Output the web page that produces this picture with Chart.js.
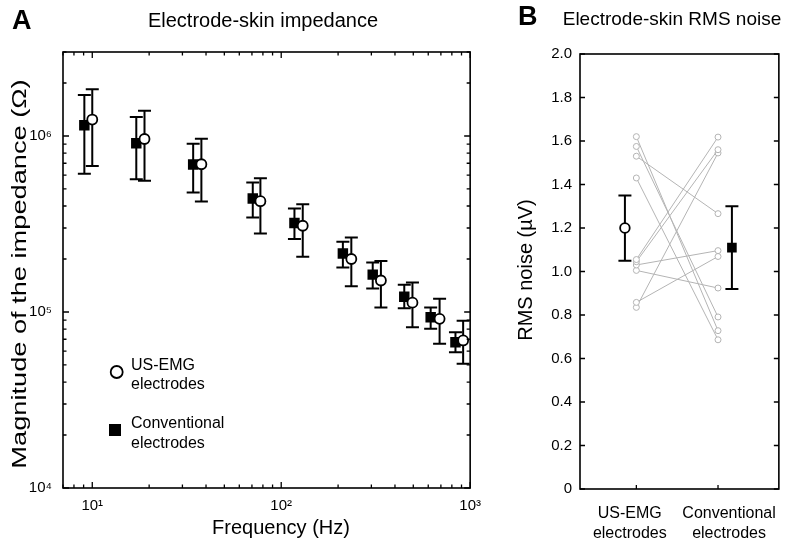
<!DOCTYPE html>
<html>
<head>
<meta charset="utf-8">
<script src="https://cdn.jsdelivr.net/npm/chart.js@4.4.1/dist/chart.umd.min.js"></script>
<style>
  html, body { margin: 0; padding: 0; background: #fff; }
  #wrap { position: relative; width: 794px; height: 544px; }
  #chartA { position: absolute; left: 0; top: 0; }
  #chartB { position: absolute; left: 490px; top: 0; }
</style>
</head>
<body>
<div id="wrap">
  <canvas id="chartA" width="490" height="544"></canvas>
  <canvas id="chartB" width="304" height="544"></canvas>
</div>
<script>
const FONT = '"Liberation Sans", Arial, sans-serif';

// ---- Panel A: impedance vs frequency ----
const freqUsEmg = [10.0, 18.9, 37.8, 77.6, 130, 235, 337, 495, 689, 918];
const impUsEmg = [1.24e6, 9.61e5, 6.91e5, 4.26e5, 3.09e5, 2.00e5, 1.51e5, 1.13e5, 9.14e4, 6.89e4];
const impUsEmgHi = [1.84e6, 1.39e6, 9.65e5, 5.76e5, 4.10e5, 2.65e5, 1.95e5, 1.47e5, 1.19e5, 8.93e4];
const impUsEmgLo = [6.76e5, 5.56e5, 4.24e5, 2.79e5, 2.06e5, 1.40e5, 1.06e5, 8.19e4, 6.59e4, 5.08e4];

const freqConv = [9.08, 17.1, 34.2, 70.7, 117.5, 212, 305, 448, 618, 836];
const impConv = [1.15e6, 9.09e5, 6.88e5, 4.41e5, 3.20e5, 2.15e5, 1.63e5, 1.22e5, 9.33e4, 6.73e4];
const impConvHi = [1.71e6, 1.28e6, 9.04e5, 5.44e5, 3.87e5, 2.51e5, 1.91e5, 1.43e5, 1.06e5, 7.67e4];
const impConvLo = [6.11e5, 5.68e5, 4.77e5, 3.44e5, 2.60e5, 1.79e5, 1.36e5, 1.05e5, 8.02e4, 5.91e4];

const freqTickValues = [10, 100, 1000];
const freqTickLabels = ['10¹', '10²', '10³'];
const impTickValues = [1e4, 1e5, 1e6];
const impTickLabels = ['10⁴', '10⁵', '10⁶'];

// ---- Panel B: RMS noise, paired subjects ----
const groupLabels = [['US-EMG', 'electrodes'], ['Conventional', 'electrodes']];
const noiseUsEmg = [1.62, 1.575, 1.53, 1.43, 1.055, 1.045, 1.03, 1.005, 0.858, 0.835];
const noiseConv = [0.728, 0.791, 1.266, 0.686, 1.618, 1.56, 1.096, 0.924, 1.069, 1.545];
const noiseMean = [1.20, 1.11];
const noiseSd = [0.15, 0.19];
const noiseTickValues = [0, 0.2, 0.4, 0.6, 0.8, 1.0, 1.2, 1.4, 1.6, 1.8, 2.0];
const noiseTickLabels = ['0', '0.2', '0.4', '0.6', '0.8', '1.0', '1.2', '1.4', '1.6', '1.8', '2.0'];

// mean markers sit a little beside each group, labels are nudged apart
const meanOffset = [-0.14, 0.17];
const labelOffset = [-0.08, 0.135];

function logTicks(min, max) {
  const out = [];
  for (let d = Math.floor(Math.log10(min)); d <= Math.ceil(Math.log10(max)); d++) {
    for (let k = 1; k <= 9; k++) {
      const v = k * Math.pow(10, d);
      if (v >= min * 0.999 && v <= max * 1.001) out.push({ v: v, len: k === 1 ? 6 : 3.5 });
    }
  }
  return out;
}

const errorBars = {
  id: 'errorBars',
  beforeDatasetsDraw(chart, args, opts) {
    const { ctx, scales } = chart;
    ctx.save();
    ctx.strokeStyle = '#000';
    ctx.lineWidth = opts.width || 2;
    const half = (opts.cap || 13) / 2;
    chart.data.datasets.forEach((ds) => {
      if (!ds.errHi) return;
      ds.data.forEach((d, j) => {
        const x = scales.x.getPixelForValue(d.x);
        const yHi = scales.y.getPixelForValue(ds.errHi[j]);
        const yLo = scales.y.getPixelForValue(ds.errLo[j]);
        ctx.beginPath();
        ctx.moveTo(x, yHi); ctx.lineTo(x, yLo);
        ctx.moveTo(x - half, yHi); ctx.lineTo(x + half, yHi);
        ctx.moveTo(x - half, yLo); ctx.lineTo(x + half, yLo);
        ctx.stroke();
      });
    });
    ctx.restore();
  }
};

const frame = {
  id: 'frame',
  afterDraw(chart, args, opts) {
    const { ctx, chartArea: a, scales } = chart;
    ctx.save();
    ctx.strokeStyle = '#000';
    ctx.lineWidth = 1.3;
    ctx.beginPath();
    (opts.xTicks || []).forEach(t => {
      const x = scales.x.getPixelForValue(t.v);
      ctx.moveTo(x, a.bottom); ctx.lineTo(x, a.bottom - t.len);
      if (opts.mirrorX) { ctx.moveTo(x, a.top); ctx.lineTo(x, a.top + t.len); }
    });
    (opts.yTicks || []).forEach(t => {
      const y = scales.y.getPixelForValue(t.v);
      ctx.moveTo(a.left, y); ctx.lineTo(a.left + t.len, y);
      if (opts.mirrorY) { ctx.moveTo(a.right, y); ctx.lineTo(a.right - t.len, y); }
    });
    ctx.stroke();
    ctx.lineWidth = 1.6;
    ctx.strokeRect(a.left, a.top, a.right - a.left, a.bottom - a.top);
    ctx.restore();
  }
};

const texts = {
  id: 'texts',
  afterDraw(chart, args, opts) {
    const ctx = chart.ctx;
    (opts.items || []).forEach(t => {
      ctx.save();
      ctx.font = t.font;
      ctx.fillStyle = '#000';
      ctx.textAlign = t.align || 'center';
      ctx.textBaseline = t.baseline || 'alphabetic';
      ctx.translate(t.x, t.y);
      if (t.rotate) ctx.rotate(t.rotate);
      if (t.stretch) ctx.scale(t.stretch, 1);
      ctx.fillText(t.text, 0, 0);
      ctx.restore();
    });
    (opts.markers || []).forEach(m => {
      ctx.save();
      ctx.fillStyle = m.fill;
      ctx.strokeStyle = '#000';
      ctx.lineWidth = m.borderWidth;
      Chart.helpers.drawPoint(ctx, { pointStyle: m.style, radius: m.radius, borderWidth: m.borderWidth, rotation: 0 }, m.x, m.y);
      ctx.restore();
    });
  }
};

Chart.register(errorBars, frame, texts);

const hidden = { display: false, drawTicks: false };

// ---- Chart A ----
new Chart(document.getElementById('chartA'), {
  type: 'scatter',
  data: {
    datasets: [
      {
        label: 'US-EMG electrodes',
        data: freqUsEmg.map((f, i) => ({ x: f, y: impUsEmg[i] })),
        errHi: impUsEmgHi, errLo: impUsEmgLo,
        pointStyle: 'circle', pointRadius: 5,
        pointBackgroundColor: '#fff', pointBorderColor: '#000', pointBorderWidth: 1.8
      },
      {
        label: 'Conventional electrodes',
        data: freqConv.map((f, i) => ({ x: f, y: impConv[i] })),
        errHi: impConvHi, errLo: impConvLo,
        pointStyle: 'rect', pointRadius: 7.4,
        pointBackgroundColor: '#000', pointBorderColor: '#000', pointBorderWidth: 0
      }
    ]
  },
  options: {
    responsive: false,
    animation: false,
    layout: { padding: { top: 52, right: 17, left: 0, bottom: 0 } },
    scales: {
      x: {
        type: 'logarithmic', min: 7, max: 1000,
        afterFit: s => { s.height = 56; },
        afterBuildTicks: s => { s.ticks = freqTickValues.map(v => ({ value: v })); },
        ticks: { callback: (v, i) => freqTickLabels[i], font: { family: FONT, size: 15 }, color: '#000', padding: 9, maxRotation: 0, autoSkip: false },
        grid: hidden, border: { display: false }
      },
      y: {
        type: 'logarithmic', min: 1e4, max: 3e6,
        afterFit: s => { s.width = 63; },
        afterBuildTicks: s => { s.ticks = impTickValues.map(v => ({ value: v })); },
        ticks: { callback: (v, i) => impTickLabels[i], font: { family: FONT, size: 15 }, color: '#000', padding: 11, autoSkip: false },
        grid: hidden, border: { display: false }
      }
    },
    plugins: {
      legend: { display: false },
      tooltip: { enabled: false },
      errorBars: { width: 2, cap: 13 },
      frame: { xTicks: logTicks(7, 1000), yTicks: logTicks(1e4, 3e6), mirrorX: true, mirrorY: true },
      texts: {
        items: [
          { text: 'A', x: 12, y: 29, font: 'bold 27px ' + FONT, align: 'left' },
          { text: 'Electrode-skin impedance', x: 263, y: 27, font: '20px ' + FONT },
          { text: 'Frequency (Hz)', x: 281, y: 534, font: '20px ' + FONT },
          { text: 'Magnitude of the impedance (Ω)', x: 20, y: 274, font: '20px ' + FONT, baseline: 'middle', rotate: -Math.PI / 2, stretch: 1.36 },
          { text: 'US-EMG', x: 131, y: 370, font: '16px ' + FONT, align: 'left' },
          { text: 'electrodes', x: 131, y: 389, font: '16px ' + FONT, align: 'left' },
          { text: 'Conventional', x: 131, y: 428, font: '16px ' + FONT, align: 'left' },
          { text: 'electrodes', x: 131, y: 448, font: '16px ' + FONT, align: 'left' }
        ],
        markers: [
          { style: 'circle', radius: 6, borderWidth: 1.8, fill: '#fff', x: 116.7, y: 372 },
          { style: 'rect', radius: 8.5, borderWidth: 0, fill: '#000', x: 115, y: 430 }
        ]
      }
    }
  }
});

// ---- Chart B ----
const pairSets = noiseUsEmg.map((u, i) => ({
  label: 'subject ' + (i + 1),
  data: [{ x: 1, y: u }, { x: 2, y: noiseConv[i] }],
  showLine: true,
  borderColor: '#b4b4b4', borderWidth: 1,
  pointStyle: 'circle', pointRadius: 3,
  pointBackgroundColor: '#fff', pointBorderColor: '#b4b4b4', pointBorderWidth: 1
}));

new Chart(document.getElementById('chartB'), {
  type: 'scatter',
  data: {
    datasets: [
      {
        label: 'US-EMG mean',
        data: [{ x: 1 + meanOffset[0], y: noiseMean[0] }],
        errHi: [noiseMean[0] + noiseSd[0]], errLo: [noiseMean[0] - noiseSd[0]],
        pointStyle: 'circle', pointRadius: 4.8,
        pointBackgroundColor: '#fff', pointBorderColor: '#000', pointBorderWidth: 1.8
      },
      {
        label: 'Conventional mean',
        data: [{ x: 2 + meanOffset[1], y: noiseMean[1] }],
        errHi: [noiseMean[1] + noiseSd[1]], errLo: [noiseMean[1] - noiseSd[1]],
        pointStyle: 'rect', pointRadius: 6.8,
        pointBackgroundColor: '#000', pointBorderColor: '#000', pointBorderWidth: 0
      }
    ].concat(pairSets)
  },
  options: {
    responsive: false,
    animation: false,
    layout: { padding: { top: 54, right: 13, left: 0, bottom: 0 } },
    scales: {
      x: {
        type: 'linear', min: 0.31, max: 2.745,
        afterFit: s => { s.height = 55; },
        afterBuildTicks: s => { s.ticks = [1, 2].map((v, i) => ({ value: v + labelOffset[i] })); },
        ticks: { callback: (v, i) => groupLabels[i], font: { family: FONT, size: 16, lineHeight: 1.25 }, color: '#000', padding: 15, maxRotation: 0, autoSkip: false },
        grid: hidden, border: { display: false }
      },
      y: {
        min: 0, max: 2,
        afterFit: s => { s.width = 90; },
        afterBuildTicks: s => { s.ticks = noiseTickValues.map(v => ({ value: v })); },
        ticks: { callback: (v, i) => noiseTickLabels[i], font: { family: FONT, size: 15 }, color: '#000', padding: 8, autoSkip: false },
        grid: hidden, border: { display: false }
      }
    },
    plugins: {
      legend: { display: false },
      tooltip: { enabled: false },
      errorBars: { width: 2, cap: 13 },
      frame: {
        xTicks: [{ v: 1, len: 4 }, { v: 2, len: 4 }],
        yTicks: noiseTickValues.map(v => ({ v: v, len: 5 })),
        mirrorX: false, mirrorY: true
      },
      texts: {
        items: [
          { text: 'B', x: 28, y: 25, font: 'bold 27px ' + FONT, align: 'left' },
          { text: 'Electrode-skin RMS noise', x: 182, y: 25, font: '19px ' + FONT },
          { text: 'RMS noise (µV)', x: 36, y: 270, font: '20px ' + FONT, baseline: 'middle', rotate: -Math.PI / 2 }
        ]
      }
    }
  }
});
</script>
</body>
</html>
